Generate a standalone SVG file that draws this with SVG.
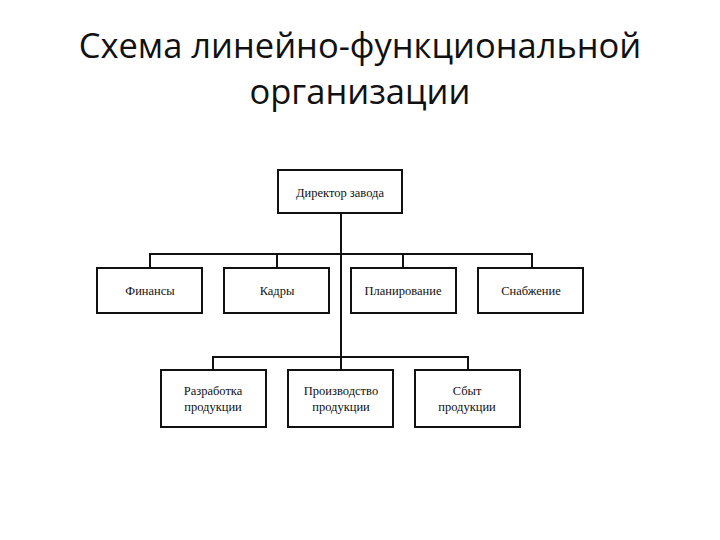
<svg xmlns="http://www.w3.org/2000/svg" width="720" height="540" viewBox="0 0 720 540">
<style>
.title{font-family:"Open Sans","Noto Sans",sans-serif;font-size:34.5px;fill:#111;text-anchor:middle}
.box{fill:#fff;stroke:#111;stroke-width:2}
.lbl{font-family:"Liberation Serif",serif;font-size:12.5px;fill:#111;text-anchor:middle}
.ln{stroke:#111;stroke-width:2;fill:none}
</style>
<rect width="720" height="540" fill="#fff"/>
<text class="title" x="360" y="58">Схема линейно-функциональной</text>
<text class="title" x="360" y="104">организации</text>
<g id="connectors">
<path class="ln" d="M341 213V358"/>
<path class="ln" d="M150 268V254H532V268M277 254V268M403 254V268"/>
<path class="ln" d="M213 370V357H468V370M341 357V370"/>
</g>
<g id="director"><rect class="box" x="278" y="170" width="124" height="43"/><text class="lbl" x="340" y="197">Директор завода</text></g>
<g id="finance"><rect class="box" x="97" y="268" width="105" height="45"/><text class="lbl" x="150" y="295">Финансы</text></g>
<g id="hr"><rect class="box" x="224" y="268" width="105" height="45"/><text class="lbl" x="277" y="295">Кадры</text></g>
<g id="planning"><rect class="box" x="351" y="268" width="105" height="45"/><text class="lbl" x="403" y="295">Планирование</text></g>
<g id="supply"><rect class="box" x="478" y="268" width="105" height="45"/><text class="lbl" x="531" y="295">Снабжение</text></g>
<g id="development"><rect class="box" x="161" y="370" width="105" height="57"/><text class="lbl" x="213" y="395">Разработка</text><text class="lbl" x="213" y="411">продукции</text></g>
<g id="production"><rect class="box" x="288" y="370" width="105" height="57"/><text class="lbl" x="341" y="395">Производство</text><text class="lbl" x="341" y="411">продукции</text></g>
<g id="sales"><rect class="box" x="415" y="370" width="105" height="57"/><text class="lbl" x="467" y="395">Сбыт</text><text class="lbl" x="467" y="411">продукции</text></g>
</svg>
